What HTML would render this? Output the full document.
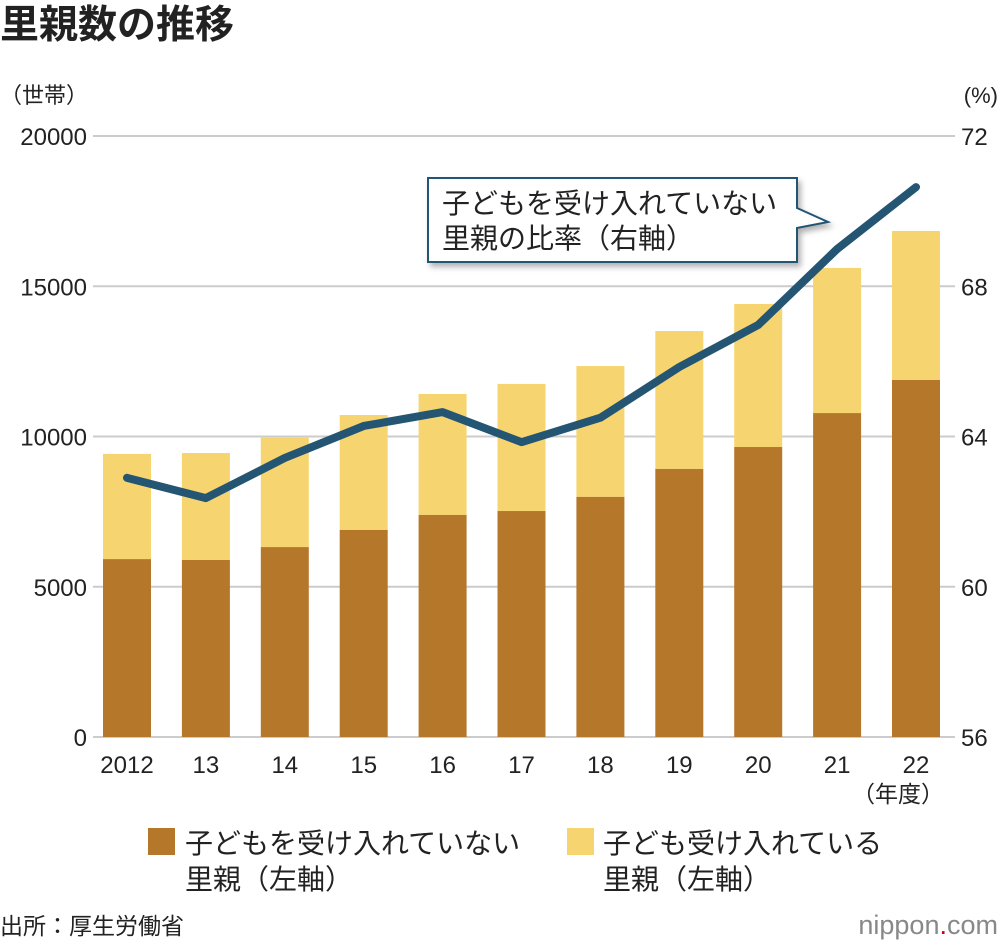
<!DOCTYPE html>
<html><head><meta charset="utf-8"><style>
body{margin:0;background:#fff;width:1000px;height:946px;overflow:hidden;font-family:"Liberation Sans","Noto Sans CJK JP",sans-serif;}
</style></head><body>
<svg width="1000" height="946" xmlns="http://www.w3.org/2000/svg" font-family="Liberation Sans, Noto Sans CJK JP, sans-serif">
<defs><filter id="sh" x="-10%" y="-10%" width="130%" height="140%"><feDropShadow dx="3" dy="4" stdDeviation="3" flood-color="#000" flood-opacity="0.3"/></filter></defs>
<text x="0" y="38" font-size="39" font-weight="bold" fill="#222">里親数の推移</text>
<text x="0" y="103" font-size="22" fill="#222">（世帯）</text>
<text x="998" y="103" font-size="22" fill="#222" text-anchor="end">(%)</text>
<g id="grid"></g><g id="bars"></g><g id="line"></g><g id="labels"></g>
<g>
<path d="M428,178 H797 V208 L828,222 L797,228 V262 H428 Z" fill="#fff" stroke="#245573" stroke-width="2" filter="url(#sh)"/>
<text x="442" y="213" font-size="28" fill="#222">子どもを受け入れていない</text>
<text x="442" y="248" font-size="28" fill="#222">里親の比率（右軸）</text>
</g>
<text x="898" y="802" font-size="23" fill="#222" text-anchor="middle">（年度）</text>
<rect x="148" y="828" width="27" height="27" fill="#b5782b"/>
<text font-size="28" fill="#222"><tspan x="185" y="853">子どもを受け入れていない</tspan><tspan x="185" y="889">里親（左軸）</tspan></text>
<rect x="567" y="828" width="27" height="27" fill="#f6d571"/>
<text font-size="28" fill="#222"><tspan x="603" y="853">子ども受け入れている</tspan><tspan x="603" y="889">里親（左軸）</tspan></text>
<text x="0" y="934" font-size="23" fill="#222">出所：厚生労働省</text>
<text x="998" y="934" font-size="27" fill="#888" text-anchor="end">nippon<tspan fill="#c00">.</tspan>com</text>
</svg>
<script>
const categories=["2012","13","14","15","16","17","18","19","20","21","22"];
const notAccepting=[5920,5890,6320,6890,7390,7520,7990,8920,9650,10780,11880];
const totals=[9420,9450,9960,10715,11415,11750,12345,13510,14410,15610,16840];
const ratio=[62.9,62.36,63.43,64.28,64.65,63.85,64.5,65.85,66.97,68.99,70.64];
const leftTicks=[0,5000,10000,15000,20000];
const rightTicks=[56,60,64,68,72];
const NS="http://www.w3.org/2000/svg";
const y0=737,y1=136,x0=93,x1=955;
const yL=v=>y0-(v/20000)*(y0-y1);
const yR=v=>y0-((v-56)/16)*(y0-y1);
const xC=i=>127+i*78.9;
function mk(t,a,p){const e=document.createElementNS(NS,t);for(const k in a)e.setAttribute(k,a[k]);document.getElementById(p).appendChild(e);return e;}
leftTicks.forEach((v,i)=>{
 const l=mk('line',{x1:x0,x2:x1,y1:yL(v),y2:yL(v),stroke:'#ccc','stroke-width':2},'grid');
 
 
 const t=mk('text',{x:87,y:yL(v)+9,'font-size':24,fill:'#222','text-anchor':'end'},'labels');t.textContent=v;
 
 
});
rightTicks.forEach(v=>{
 const t=mk('text',{x:961,y:yR(v)+9,'font-size':24,fill:'#222'},'labels');t.textContent=v;
 
 
});
categories.forEach((c,i)=>{
 const x=xC(i)-24;
 const r1=mk('rect',{x:x,y:yL(totals[i]),width:48,height:yL(notAccepting[i])-yL(totals[i]),fill:'#f6d571'},'bars');
 
 
 const r2=mk('rect',{x:x,y:yL(notAccepting[i]),width:48,height:y0-yL(notAccepting[i]),fill:'#b5782b'},'bars');
 
 
 const t=mk('text',{x:xC(i),y:773,'font-size':24,fill:'#222','text-anchor':'middle'},'labels');t.textContent=c;
 
 
});
const pl=mk('polyline',{points:ratio.map((v,i)=>xC(i)+','+yR(v)).join(' '),fill:'none',stroke:'#245573','stroke-width':8,'stroke-linecap':'round','stroke-linejoin':'round'},'line');


</script>
</body></html>
